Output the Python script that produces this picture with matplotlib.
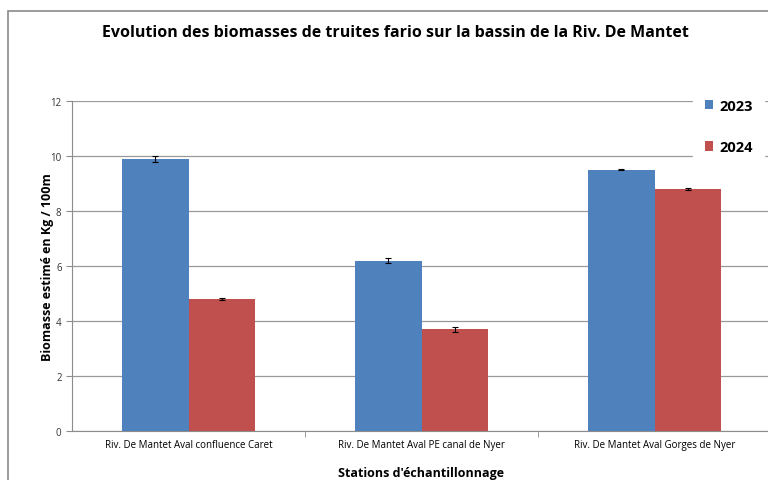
import matplotlib
matplotlib.use("Agg")
import matplotlib.pyplot as plt
from matplotlib.patches import Rectangle
import numpy as np

plt.rcParams['font.family'] = ['Open Sans', 'DejaVu Sans']

stations = ['Riv. De Mantet Aval confluence Caret',
            'Riv. De Mantet Aval PE canal de Nyer',
            'Riv. De Mantet Aval Gorges de Nyer']
years = ['2023', '2024']
bio_2023 = [9.9, 6.2, 9.5]
bio_2024 = [4.8, 3.7, 8.8]
err_2023 = [0.1, 0.1, 0.02]
err_2024 = [0.02, 0.1, 0.04]

fig = plt.figure(figsize=(7.68, 4.81), dpi=100)
# outer chart frame (cropped on right/bottom)
fig.patches.append(Rectangle((8 / 768, -0.1), 1.2, 1 - 12 / 481 + 0.1,
                             transform=fig.transFigure, fill=False,
                             edgecolor='#8a8a8a', linewidth=1.2))

ax = fig.add_axes([72 / 768, 1 - 432 / 481, 699 / 768, 330 / 481])

x = np.arange(len(stations))
w = 0.2875
ax.bar(x - w / 2, bio_2023, w, color='#4F81BD', label=years[0], zorder=3,
       yerr=err_2023, error_kw=dict(ecolor='black', capsize=2, elinewidth=0.8, capthick=0.8))
ax.bar(x + w / 2, bio_2024, w, color='#C0504D', label=years[1], zorder=3,
       yerr=err_2024, error_kw=dict(ecolor='black', capsize=2, elinewidth=0.8, capthick=0.8))

ax.set_xlim(-0.5, 2.5)
ax.set_ylim(0, 12)
ax.set_yticks(range(0, 13, 2))
ax.yaxis.grid(True, color='#999999', linewidth=0.9, zorder=0)
ax.set_xticks(x)
ax.set_xticklabels(stations, fontsize=7)
ax.set_xticks([0.5, 1.5], minor=True)
ax.tick_params(axis='x', which='major', length=0, pad=6)
ax.tick_params(axis='x', which='minor', length=4, color='#8c8c8c')
ax.tick_params(axis='y', labelsize=7, length=4, color='#8c8c8c', labelcolor='#333333')
for s in ['top', 'right']:
    ax.spines[s].set_visible(False)
ax.spines['left'].set_color('#8c8c8c')
ax.spines['bottom'].set_color('#8c8c8c')

ax.set_ylabel('Biomasse estimé en Kg / 100m', fontsize=9, fontweight='bold', labelpad=-3)
ax.set_xlabel("Stations d'échantillonnage", fontsize=9, fontweight='bold', labelpad=11)
fig.text(0.515, 0.932, 'Evolution des biomasses de truites fario sur la bassin de la Riv. De Mantet',
         ha='center', va='center', fontsize=11.5, fontweight='bold')

leg = ax.legend(loc='upper left', bbox_to_anchor=(0.878, 1.065), frameon=True, fancybox=False,
                edgecolor='white', framealpha=1, fontsize=10.5, handlelength=0.6, handleheight=0.6,
                labelspacing=1.9, handletextpad=0.4, borderpad=0.8)
for t in leg.get_texts():
    t.set_fontweight('bold')

fig.savefig('out.png', dpi=100)
